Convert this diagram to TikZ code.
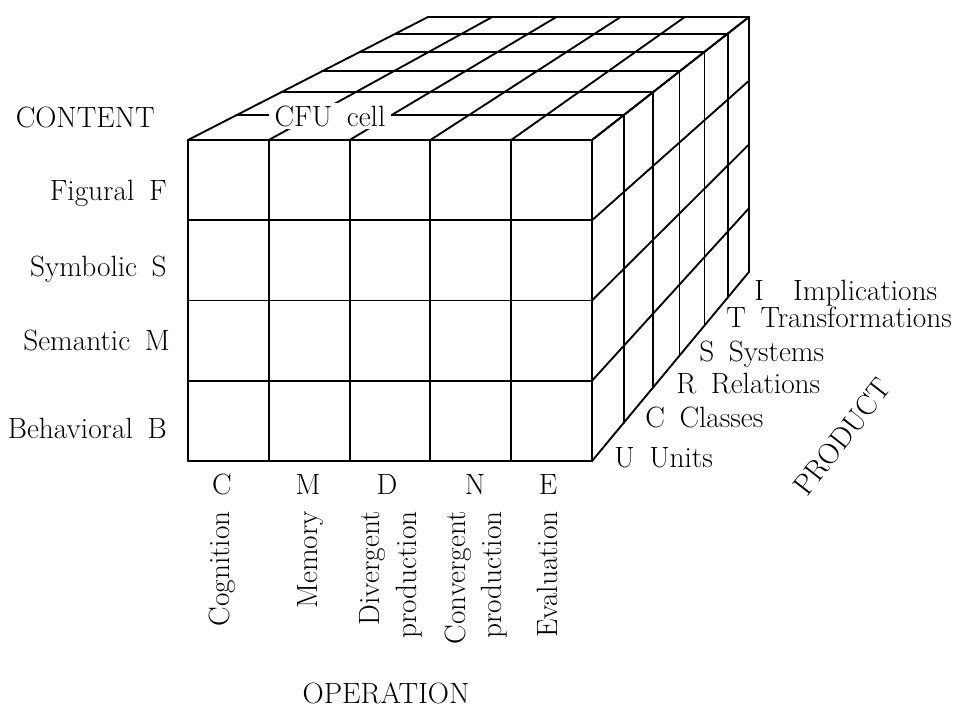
\documentclass[tikz,border=0pt]{standalone}
\usetikzlibrary{calc}
\begin{document}
\begin{tikzpicture}[x=0.75pt,y=-0.75pt,
  grid/.style={line width=1.4pt, line cap=round, line join=round},
  lbl/.style={font=\fontsize{22}{27.5}\selectfont, inner sep=0pt},
  oplbl/.style={lbl, rotate=90, anchor=east, align=right}]
\useasboundingbox (0,0) rectangle (955,709);
\coordinate (V) at (1355,-458);
% perspective points (column i, row j, depth k)
\foreach \i in {0,...,5}{
  \foreach \j in {0,...,4}{
    \foreach \k in {0,...,6}{
      \pgfmathsetmacro\s{1-1/(1+0.0432*\k)}
      \coordinate (p-\i-\j-\k) at ($(188+80.8*\i,140+80.25*\j)!\s!(V)$);
    }
  }
}
% front face
\foreach \i in {0,...,5}{\draw[grid] (p-\i-0-0) -- (p-\i-4-0);}
\foreach \j in {0,...,4}{\draw[grid] (p-0-\j-0) -- (p-5-\j-0);}
% top face
\foreach \k in {0,...,6}{\draw[grid] (p-0-0-\k) -- (p-5-0-\k);}
\foreach \i in {0,...,5}{\draw[grid] (p-\i-0-0) -- (p-\i-0-6);}
% right face
\foreach \k in {0,...,6}{\draw[grid] (p-5-0-\k) -- (p-5-4-\k);}
\foreach \j in {0,...,4}{\draw[grid] (p-5-\j-0) -- (p-5-\j-6);}
% CFU cell label
\node[lbl, fill=white, minimum width=92pt, minimum height=20pt] (cfu) at (330,116) {CFU\enspace cell};
% content labels
\node[lbl, anchor=base east] (content) at (155,128) {CONTENT};
\node[lbl, anchor=base east] (fig) at (167,200) {Figural\enspace F};
\node[lbl, anchor=base east] (sym) at (167,276) {Symbolic\enspace S};
\node[lbl, anchor=base east] (sem) at (170,350) {Semantic\enspace M};
\node[lbl, anchor=base east] (beh) at (167,438) {Behavioral\enspace B};
% operation letters
\node[lbl, anchor=base] (oc) at (222,494) {C};
\node[lbl, anchor=base] (om) at (308,494) {M};
\node[lbl, anchor=base] (od) at (387,494) {D};
\node[lbl, anchor=base] (on) at (475,494) {N};
\node[lbl, anchor=base] (oe) at (548,494) {E};
% operation names
\node[oplbl] (cog) at (222,511) {Cognition};
\node[oplbl] (mem) at (310,511) {Memory};
\node[oplbl] (div) at (391,511) {Divergent\\production};
\node[oplbl] (conv) at (476,511) {Convergent\\production};
\node[oplbl] (eval) at (547,511) {Evaluation};
\node[lbl, anchor=base] (operation) at (386,703) {OPERATION};
% product labels
\node[lbl, anchor=base west] (pu) at (614,467) {U\enspace Units};
\node[lbl, anchor=base west] (pc) at (645,427) {C\enspace Classes};
\node[lbl, anchor=base west] (pr) at (676,393) {R\enspace Relations};
\node[lbl, anchor=base west] (ps) at (699,361) {S\enspace Systems};
\node[lbl, anchor=base west] (pt) at (726,327) {T\enspace Transformations};
\node[lbl, anchor=base west] (pi) at (754,300) {I\quad Implications};
\node[lbl, rotate=52] (product) at (842,437) {PRODUCT};
\end{tikzpicture}
\end{document}
